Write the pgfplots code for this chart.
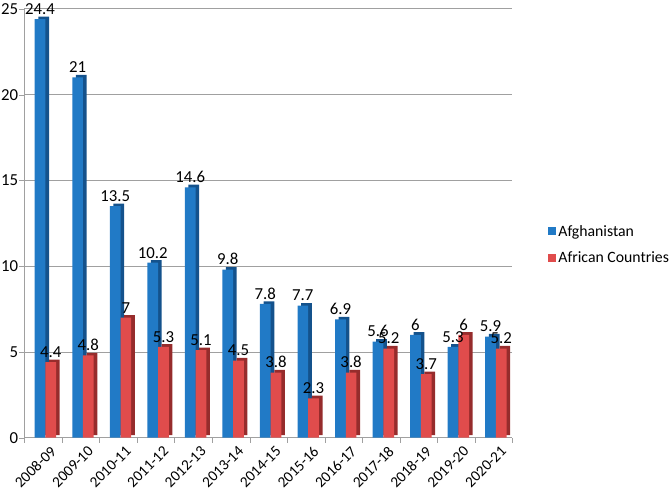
\documentclass[border=0pt]{standalone}
\usepackage{fontspec}
\setmainfont{Carlito}
\usepackage{pgfplots}
\pgfplotsset{compat=1.18}
\definecolor{afgblue}{RGB}{33,122,198}
\definecolor{afgdark}{RGB}{20,82,140}
\definecolor{afrred}{RGB}{224,76,76}
\definecolor{afrdark}{RGB}{150,44,44}
\definecolor{gridgray}{RGB}{160,160,160}

\begin{document}
\begin{tikzpicture}
\begin{axis}[
    scale only axis,
    width=478bp, height=420bp,
    xmin=-0.5, xmax=12.5,
    ymin=0, ymax=25,
    ytick={0,5,...,25},
    xtick={0,...,12},
    xticklabels={2008-09,2009-10,2010-11,2011-12,2012-13,2013-14,2014-15,2015-16,2016-17,2017-18,2018-19,2019-20,2020-21},
    minor xtick={-0.5,0.5,...,12.5},
    major x tick style={draw=none},
    minor tick length=5bp,
    major tick length=5bp,
    tick align=outside,
    tick style={gridgray},
    x tick label style={rotate=45, anchor=north east, inner sep=1bp, xshift=4bp, yshift=-5bp,
      font=\fontsize{15}{17}\selectfont},
    y tick label style={inner xsep=1bp, font=\fontsize{16.5}{18}\selectfont},
    ymajorgrids,
    grid style={gridgray, line width=0.8pt},
    axis x line*=bottom,
    axis y line*=left,
    axis line style={gridgray, line width=0.8pt, -},
    /pgf/number format/assume math mode=true,
    ybar, bar width=10.5bp,
    clip=false,
    legend style={at={(1.073,0.45)}, anchor=west, draw=none, fill=none,
      inner xsep=0bp, font=\fontsize{15.5}{18}\selectfont, row sep=10bp,
      /tikz/every even column/.append style={column sep=2bp}},
    legend cell align=left,
    legend image code/.code={\fill[#1] (0bp,-4bp) rectangle (8bp,4bp);},
]
% darker side faces (drawn behind)
\addplot[fill=afgdark, draw=none, bar shift=0.5bp, yshift=2.5bp, forget plot]
  coordinates {(0,24.4) (1,21) (2,13.5) (3,10.2) (4,14.6) (5,9.8) (6,7.8) (7,7.7) (8,6.9) (9,5.6) (10,6) (11,5.3) (12,5.9)};
\addplot[fill=afrdark, draw=none, bar shift=11bp, yshift=2.5bp, forget plot]
  coordinates {(0,4.4) (1,4.8) (2,7) (3,5.3) (4,5.1) (5,4.5) (6,3.8) (7,2.3) (8,3.8) (9,5.2) (10,3.7) (11,6) (12,5.2)};
% front faces
\addplot[fill=afgblue, draw=none, bar shift=-3bp,
  nodes near coords, every node near coord/.append style={font=\fontsize{16.5}{18}\selectfont, black, yshift=1bp}]
  coordinates {(0,24.4) (1,21) (2,13.5) (3,10.2) (4,14.6) (5,9.8) (6,7.8) (7,7.7) (8,6.9) (9,5.6) (10,6) (11,5.3) (12,5.9)};
\addplot[fill=afrred, draw=none, bar shift=7.5bp,
  nodes near coords, every node near coord/.append style={font=\fontsize{16.5}{18}\selectfont, black, yshift=1bp}]
  coordinates {(0,4.4) (1,4.8) (2,7) (3,5.3) (4,5.1) (5,4.5) (6,3.8) (7,2.3) (8,3.8) (9,5.2) (10,3.7) (11,6) (12,5.2)};
\legend{Afghanistan, African Countries}
\end{axis}
\end{tikzpicture}
\end{document}
